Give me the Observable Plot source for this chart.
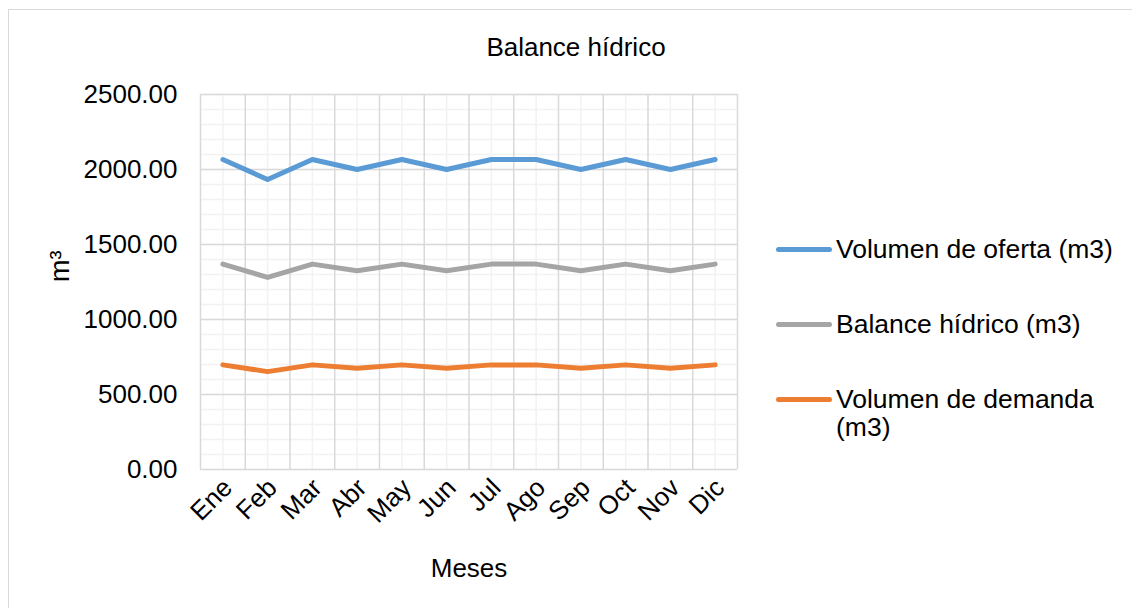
<!DOCTYPE html>
<html>
<head>
<meta charset="utf-8">
<script src="https://cdn.jsdelivr.net/npm/d3@7"></script>
<script src="https://cdn.jsdelivr.net/npm/@observablehq/plot@0.6"></script>
<style>
  html, body { margin: 0; padding: 0; background: #fff; overflow: hidden; }
  body { font-family: "Liberation Sans", Arial, sans-serif; color: #000; }
  #wrap { position: relative; width: 1132px; height: 608px; overflow: hidden; }
  #border { position: absolute; left: 8px; top: 9px; width: 1300px; height: 800px; border: 1px solid #d9d9d9; box-sizing: border-box; }
  #chart { position: absolute; left: 0; top: 0; }
  #title { position: absolute; left: 0; width: 1152px; top: 32px; text-align: center; font-size: 26px; line-height: 30px; }
  .leg { position: absolute; left: 776px; font-size: 26.5px; line-height: 28px; }
  .leg .sw { position: absolute; left: 0; width: 56px; height: 5px; border-radius: 3px; }
  .leg .tx { position: absolute; left: 60px; white-space: nowrap; }
</style>
</head>
<body>
<div id="wrap">
  <div id="border"></div>
  <div id="chart"></div>
  <div id="title">Balance hídrico</div>
  <div id="legend"></div>
</div>
<script>
// ---- Data ----
const months = ["Ene", "Feb", "Mar", "Abr", "May", "Jun", "Jul", "Ago", "Sep", "Oct", "Nov", "Dic"];
const oferta  = [2066.67, 1933.33, 2066.67, 2000.00, 2066.67, 2000.00, 2066.67, 2066.67, 2000.00, 2066.67, 2000.00, 2066.67];
const balance = [1369.17, 1280.83, 1369.17, 1325.00, 1369.17, 1325.00, 1369.17, 1369.17, 1325.00, 1369.17, 1325.00, 1369.17];
const demanda = [697.50, 652.50, 697.50, 675.00, 697.50, 675.00, 697.50, 697.50, 675.00, 697.50, 675.00, 697.50];
const seriesNames = ["Volumen de oferta (m3)", "Balance hídrico (m3)", "Volumen de demanda (m3)"];
const seriesColors = ["#5b9bd5", "#a5a5a5", "#ed7d31"];
const yTicks = [0, 500, 1000, 1500, 2000, 2500];
const yMinorStep = 100;

// ---- Build table ----
const seriesValues = [oferta, balance, demanda];
const rows = [];
seriesValues.forEach((vals, s) => {
  vals.forEach((v, i) => rows.push({ i, month: months[i], value: v, series: seriesNames[s] }));
});
const idx = months.map((_, i) => i);
const bandEdges = [...idx.map(i => i - 0.5), months.length - 0.5];
const yMinor = d3.range(0, 2500 + 1, yMinorStep);

const chart = Plot.plot({
  width: 1132,
  height: 608,
  marginLeft: 200,
  marginRight: 395,
  marginTop: 94,
  marginBottom: 139,
  style: { fontFamily: "'Liberation Sans', Arial, sans-serif", fontSize: "26px", color: "#000", background: "transparent" },
  x: { type: "linear", domain: [-0.5, months.length - 0.5] },
  y: { domain: [0, 2500] },
  color: { domain: seriesNames, range: seriesColors },
  marks: [
    Plot.ruleY(yMinor, { stroke: "#f2f2f2", strokeWidth: 1.5 }),
    Plot.ruleX(idx, { stroke: "#f2f2f2", strokeWidth: 1.5 }),
    Plot.ruleY(yTicks, { stroke: "#d9d9d9", strokeWidth: 1.5 }),
    Plot.ruleX(bandEdges, { stroke: "#d9d9d9", strokeWidth: 1.5 }),
    Plot.axisY({
      ticks: yTicks, tickFormat: d => d.toFixed(2), tickSize: 0, tickPadding: 23,
      fontSize: 26, label: null
    }),
    Plot.text(["m³"], { frameAnchor: "left", dx: -140, rotate: -90, fontSize: 27, fill: "#000" }),
    Plot.axisX({
      ticks: idx, tickFormat: i => months[i], tickSize: 0, tickPadding: 14, tickRotate: -45,
      dx: 5, fontSize: 26, label: null
    }),
    Plot.text(["Meses"], { frameAnchor: "bottom", dy: 107, fontSize: 26, fill: "#000" }),
    Plot.line(rows, {
      x: "i", y: "value", z: "series", stroke: "series",
      strokeWidth: 5, strokeLinecap: "round", strokeLinejoin: "round"
    })
  ]
});
document.getElementById("chart").appendChild(chart);

// ---- Legend ----
const legTops = [235, 310, 385];
const legend = document.getElementById("legend");
seriesNames.forEach((name, k) => {
  const item = document.createElement("div");
  item.className = "leg";
  item.style.top = legTops[k] + "px";
  const sw = document.createElement("div");
  sw.className = "sw";
  sw.style.background = seriesColors[k];
  sw.style.top = "12px";
  const tx = document.createElement("div");
  tx.className = "tx";
  tx.innerHTML = name === "Volumen de demanda (m3)" ? "Volumen de demanda<br>(m3)" : name;
  item.appendChild(sw);
  item.appendChild(tx);
  legend.appendChild(item);
});
</script>
</body>
</html>
